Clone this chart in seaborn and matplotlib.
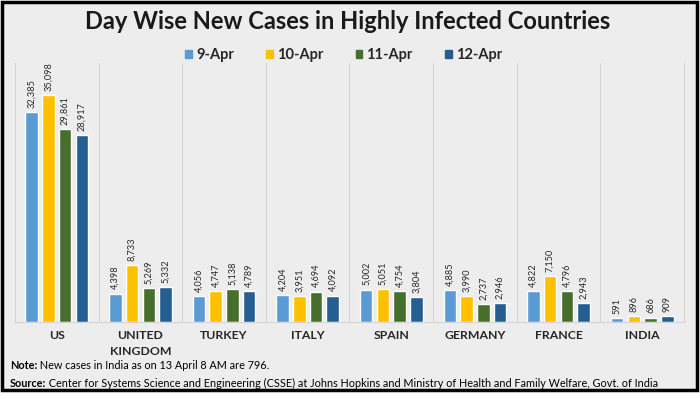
import pandas as pd
import matplotlib.pyplot as plt
import seaborn as sns
from matplotlib.patches import Rectangle

# ============================
# Data
# ============================
countries = ["US", "UNITED\nKINGDOM", "TURKEY", "ITALY", "SPAIN", "GERMANY", "FRANCE", "INDIA"]
days = ["9-Apr", "10-Apr", "11-Apr", "12-Apr"]
apr9 = [32385, 4398, 4056, 4204, 5002, 4885, 4822, 591]
apr10 = [35098, 8733, 4747, 3951, 5051, 3990, 7150, 896]
apr11 = [29861, 5269, 5138, 4694, 4754, 2737, 4796, 686]
apr12 = [28917, 5332, 4789, 4092, 3804, 2946, 2943, 909]
colors = ["#5b9bd5", "#ffc000", "#476f2c", "#255e91"]

rows = []
for day, vals in zip(days, [apr9, apr10, apr11, apr12]):
    for c, v in zip(countries, vals):
        rows.append({"country": c, "day": day, "cases": v})
df = pd.DataFrame(rows)

# ============================
# Figure
# ============================
sns.set_style("white")
plt.rcParams["font.family"] = ["Lato", "DejaVu Sans"]

bg = "#ededed"
fig = plt.figure(figsize=(7, 3.99), dpi=100, facecolor="white")
fig.patches.append(Rectangle((0.003, 0.022), 0.993, 0.974, transform=fig.transFigure,
                             facecolor=bg, edgecolor="black", linewidth=2.5, zorder=-10))

ax = fig.add_axes([0.0214, 0.193, 0.9557, 0.649])
ax.set_facecolor(bg)
sns.barplot(data=df, x="country", y="cases", hue="day", palette=colors,
            width=0.8, gap=0.25, saturation=1, ax=ax, legend=False)

ax.set_ylim(0, 40000)
ax.set_xlim(-0.5, 7.5)
ax.set_yticks([])
ax.set_xlabel("")
ax.set_ylabel("")
for s in ["left", "right", "bottom"]:
    ax.spines[s].set_color("#d4d4d4")
    ax.spines[s].set_linewidth(0.8)
ax.spines["top"].set_visible(False)
for k in range(7):
    ax.axvline(k + 0.5, color="#d4d4d4", lw=0.8, zorder=0)

ax.tick_params(axis="x", length=0, pad=6)
ax.set_xticks(range(len(countries)))
ax.set_xticklabels(countries, fontsize=8.8, fontweight="bold", color="#262626", linespacing=1.5)
for lbl in ax.get_xticklabels():
    lbl.set_verticalalignment("top")

for cont in ax.containers:
    for bar in cont:
        h = bar.get_height()
        ax.annotate(f"{int(h):,}", (bar.get_x() + bar.get_width() / 2, h),
                    xytext=(0, 3), textcoords="offset points", rotation=90,
                    ha="center", va="bottom", fontsize=6.6, color="#262626")

# legend
handles = [Rectangle((0, 0), 1, 1, color=c) for c in colors]
fig.legend(handles, days, loc="center", bbox_to_anchor=(0.491, 0.862), ncol=4,
           frameon=False, handlelength=0.45, handleheight=0.45, handletextpad=0.3,
           columnspacing=2.2, prop={"weight": "bold", "size": 10.5})

fig.text(0.497, 0.945, "Day Wise New Cases in Highly Infected Countries",
         ha="center", va="center", fontsize=17, fontweight="bold", color="#1a1a1a")

# notes
fig.canvas.draw()
r = fig.canvas.get_renderer()
for y, head, body in [(0.083, "Note:", " New cases in India as on 13 April 8 AM are 796."),
                      (0.040, "Source:", " Center for Systems Science and Engineering (CSSE) at Johns Hopkins and Ministry of Health and Family Welfare, Govt. of India")]:
    t = fig.text(0.014, y, head, fontsize=7.8, fontweight="bold", color="black", va="center")
    bb = t.get_window_extent(r).transformed(fig.transFigure.inverted())
    fig.text(bb.x1, y, body, fontsize=7.8, color="black", va="center")

fig.savefig("out.png", dpi=100, facecolor="white")
